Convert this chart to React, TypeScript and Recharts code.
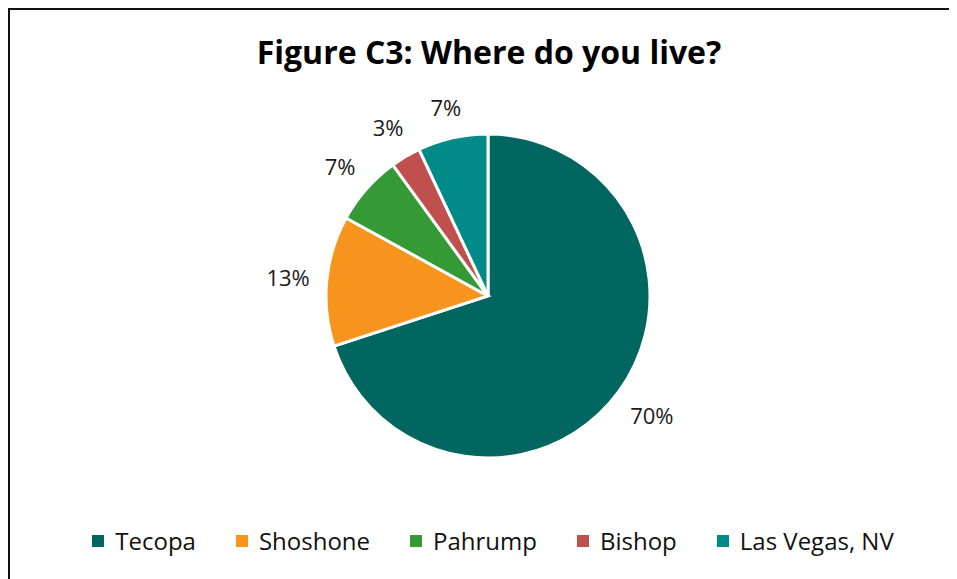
import { PieChart, Pie, Cell } from 'recharts';

const places = ['Tecopa', 'Shoshone', 'Pahrump', 'Bishop', 'Las Vegas, NV'];
const shares = [70, 13, 7, 3, 7];
const sliceColors = ['#00665f', '#f7941e', '#359a35', '#c0504d', '#008a88'];

const chartData = places.map((name, i) => ({ name, value: shares[i] }));

const FONT = '"Open Sans", Calibri, sans-serif';
const LABEL_SIZE = 22;
const RADIAN = Math.PI / 180;

// Excel-style "outside end" label: box edge sits a fixed gap past the rim
function renderLabel(props: any) {
  const { cx, cy, midAngle, outerRadius, value } = props;
  const text = `${value}%`;
  const c = Math.cos(-midAngle * RADIAN);
  const s = Math.sin(-midAngle * RADIAN);
  const halfW = (text.length * LABEL_SIZE * 0.6) / 2;
  const halfH = LABEL_SIZE / 2;
  const r = outerRadius + 18 + Math.abs(c) * halfW + Math.abs(s) * halfH;
  return (
    <text
      x={cx + r * c}
      y={cy + r * s}
      textAnchor="middle"
      dominantBaseline="central"
      fill="#1a1a1a"
      fontSize={LABEL_SIZE}
      fontFamily={FONT}
    >
      {text}
    </text>
  );
}

function LegendRow() {
  return (
    <div
      style={{
        position: 'absolute',
        left: 4,
        width: 958,
        top: 514,
        display: 'flex',
        justifyContent: 'center',
        alignItems: 'center',
        gap: 40,
        fontFamily: FONT,
        fontSize: 24,
        color: '#111',
      }}
    >
      {places.map((name, i) => (
        <div key={name} style={{ display: 'flex', alignItems: 'center' }}>
          <span
            style={{
              width: 12,
              height: 12,
              background: sliceColors[i],
              marginRight: 11,
              display: 'inline-block',
            }}
          />
          <span>{name}</span>
        </div>
      ))}
    </div>
  );
}

export default function App() {
  return (
    <div
      style={{
        position: 'relative',
        width: 949,
        height: 571,
        borderTop: '2px solid #111',
        borderLeft: '2px solid #111',
        boxSizing: 'border-box',
        background: '#fff',
      }}
    >
      <div
        style={{
          position: 'absolute',
          left: 0,
          width: 958,
          top: 20,
          textAlign: 'center',
          fontFamily: FONT,
          fontWeight: 700,
          fontSize: 32,
          color: '#000',
        }}
      >
        Figure C3: Where do you live?
      </div>
      <PieChart width={947} height={569} margin={{ top: 0, right: 0, bottom: 0, left: 0 }}>
        <Pie
          data={chartData}
          dataKey="value"
          nameKey="name"
          cx={478}
          cy={286}
          outerRadius={162}
          startAngle={90}
          endAngle={-270}
          stroke="#fff"
          strokeWidth={3}
          label={renderLabel}
          labelLine={false}
          isAnimationActive={false}
        >
          {chartData.map((d, i) => (
            <Cell key={d.name} fill={sliceColors[i]} />
          ))}
        </Pie>
      </PieChart>
      <LegendRow />
    </div>
  );
}
